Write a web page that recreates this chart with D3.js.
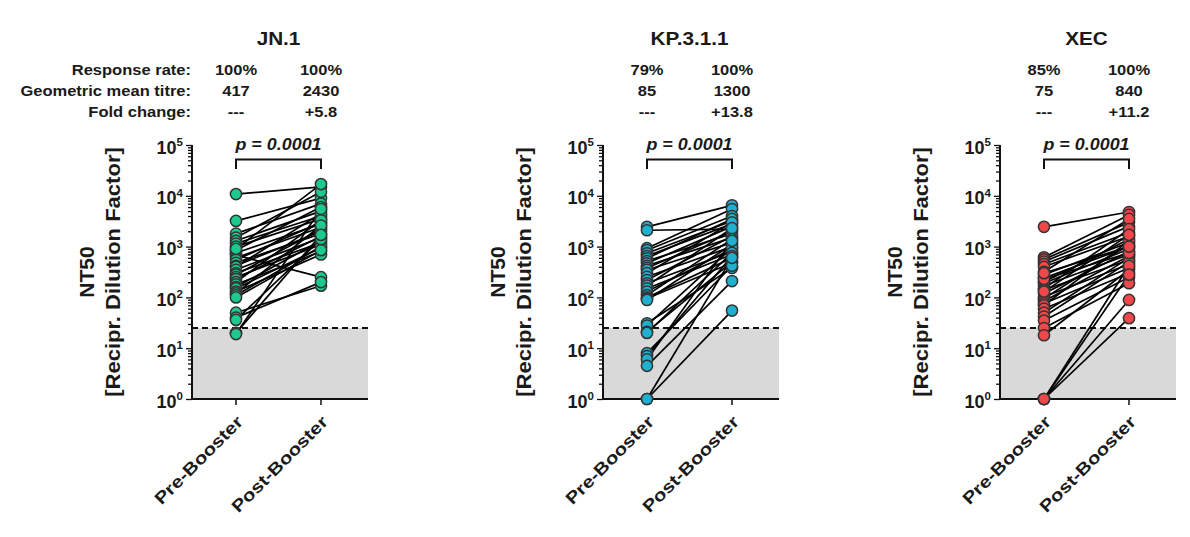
<!DOCTYPE html>
<html><head><meta charset="utf-8">
<script src="https://cdn.jsdelivr.net/npm/d3@7/dist/d3.min.js"></script>
<style>body{margin:0;background:#fff}svg text{font-family:"Liberation Sans",Arial,sans-serif;font-weight:bold;fill:#1a1a1a}</style>
</head><body><svg id="c" width="1190" height="537"></svg>
<script>
const groups = ["Pre-Booster", "Post-Booster"];
const titles = ["JN.1", "KP.3.1.1", "XEC"];
const rowLabels = ["Response rate:", "Geometric mean titre:", "Fold change:"];
const responseRate = [["100%","100%"],["79%","100%"],["85%","100%"]];
const gmt = [["417","2430"],["85","1300"],["75","840"]];
const foldChange = [["---","+5.8"],["---","+13.8"],["---","+11.2"]];
const pValues = ["p = 0.0001","p = 0.0001","p = 0.0001"];
const threshold = 25;
const yTickValues = [1, 10, 100, 1000, 10000, 100000];

const jn1Pre  = [10800,3200,1800,1500,1300,1150,1000,850,750,680,600,550,480,420,400,350,300,280,250,230,200,180,160,150,130,120,110,100,50,40,36,20,19,900];
const jn1Post = [15000,9000,7000,12000,5000,4000,3500,6000,2800,250,2400,3000,1800,2000,4500,1500,1200,2200,1100,1600,3300,800,1300,950,700,2600,1000,850,170,200,1400,1700,5500,17000];
const kpPre  = [2450,2100,930,850,740,650,590,520,470,420,380,347,300,255,220,190,170,150,130,111,100,95,89,31,28,21,20,8,7,6,4.5,1,1];
const kpPost = [6500,2200,5500,4000,3200,2800,3500,1800,2500,1500,2000,1200,3000,1000,1600,800,2300,700,900,1400,600,480,1100,380,950,500,750,420,650,1300,210,55,600];
const xecPre  = [2450,615,560,505,450,400,320,280,240,200,190,170,150,140,120,103,95,85,76,70,60,50,42,35,25,18,1,1,1,1,130,230,300];
const xecPost = [4800,4200,3000,2500,1900,1600,3500,1200,1000,1400,900,700,2200,550,800,450,1100,650,380,1300,300,600,500,250,190,350,89,39,420,280,1700,750,1000];

const preSeries = [jn1Pre, kpPre, xecPre];
const postSeries = [jn1Post, kpPost, xecPost];
const colors = ["#1ec98d", "#1fb0cf", "#f0474a"];
const axisXs = [192, 603, 1000];

const svg = d3.select("#c");
const W = 176, yTop = 145, yBot = 399;
const y = d3.scaleLog().domain([1, 1e5]).range([yBot, yTop]);

function txt(g, x, yy, s, size, anchor, sx, rot) {
  return g.append("text")
    .attr("transform", `translate(${x},${yy})${rot ? ` rotate(${rot})` : ""} scale(${sx},1)`)
    .attr("text-anchor", anchor).style("font-size", size + "px").text(s);
}

axisXs.forEach((ax, i) => {
  const g = svg.append("g");
  const x = d3.scalePoint().domain(groups).range([ax + 44, ax + 129]);
  const xp = x(groups[0]), xq = x(groups[1]);
  // title & header
  txt(g, (xp + xq) / 2, 45, titles[i], 18.5, "middle", 1.12);
  const rows = [responseRate[i], gmt[i], foldChange[i]];
  rows.forEach((r, k) => {
    const yy = 75 + k * 21;
    if (i === 0) txt(g, ax - 1, yy, rowLabels[k], 14, "end", 1.18);
    r.forEach((v, j) => txt(g, x(groups[j]), yy, v, 14, "middle", 1.18));
  });
  // grey region + threshold
  g.append("rect").attr("x", ax).attr("y", y(threshold)).attr("width", W).attr("height", y(1) - y(threshold)).attr("fill", "#d9d9d9");
  g.append("line").attr("x1", ax).attr("x2", ax + W).attr("y1", y(threshold)).attr("y2", y(threshold))
    .attr("stroke", "#111").attr("stroke-width", 2).attr("stroke-dasharray", "6,4");
  // y axis
  const ya = d3.axisLeft(y).tickValues(y.ticks()).tickSize(3).tickFormat("");
  const yg = g.append("g").attr("transform", `translate(${ax},0)`).call(ya);
  yg.select(".domain").remove();
  yg.selectAll(".tick line").attr("stroke", "#111").attr("stroke-width", 1.3)
    .attr("x2", d => yTickValues.includes(d) ? -6 : -4);
  g.append("line").attr("x1", ax).attr("x2", ax).attr("y1", yTop).attr("y2", yBot + 1).attr("stroke", "#111").attr("stroke-width", 2);
  yTickValues.forEach((v) => {
    const t = txt(g, ax - 9, y(v) + 8.5, "", 18, "end", 1.0);
    t.append("tspan").text("10");
    t.append("tspan").attr("dy", -7.5).style("font-size", "11.5px").text(String(Math.round(Math.log10(v))));
  });
  // y label
  const cy = (yTop + yBot) / 2;
  txt(g, ax - 98, cy, "NT50", 19.5, "middle", 1.08, -90);
  txt(g, ax - 72, cy, "[Recipr. Dilution Factor]", 19.5, "middle", 1.13, -90);
  // x axis
  g.append("line").attr("x1", ax - 1).attr("x2", ax + W).attr("y1", yBot).attr("y2", yBot).attr("stroke", "#111").attr("stroke-width", 2);
  groups.forEach(gr => {
    g.append("line").attr("x1", x(gr)).attr("x2", x(gr)).attr("y1", yBot).attr("y2", yBot + 6).attr("stroke", "#111").attr("stroke-width", 1.5);
    txt(g, x(gr) + 8, yBot + 24, gr, 17, "end", 1.2, -45);
  });
  // p-value bracket
  g.append("path").attr("d", `M${xp},169V159.5H${xq}V169`).attr("fill", "none").attr("stroke", "#111").attr("stroke-width", 2);
  txt(g, (xp + xq) / 2, 150, pValues[i], 16, "middle", 1.12).style("font-style", "italic");
  // paired lines
  const pre = preSeries[i], post = postSeries[i];
  const pairs = pre.map((v, k) => [v, post[k]]);
  g.selectAll(".pl").data(pairs).enter().append("line")
    .attr("x1", xp).attr("x2", xq).attr("y1", d => y(d[0])).attr("y2", d => y(d[1]))
    .attr("stroke", "#000").attr("stroke-width", 1.7);
  const pts = [];
  pre.forEach(v => pts.push([xp, v]));
  post.forEach(v => pts.push([xq, v]));
  g.selectAll(".pt").data(pts).enter().append("circle")
    .attr("cx", d => d[0]).attr("cy", d => y(d[1])).attr("r", 5.6)
    .attr("fill", colors[i]).attr("stroke", "#333").attr("stroke-width", 1.5);
});
</script></body></html>
